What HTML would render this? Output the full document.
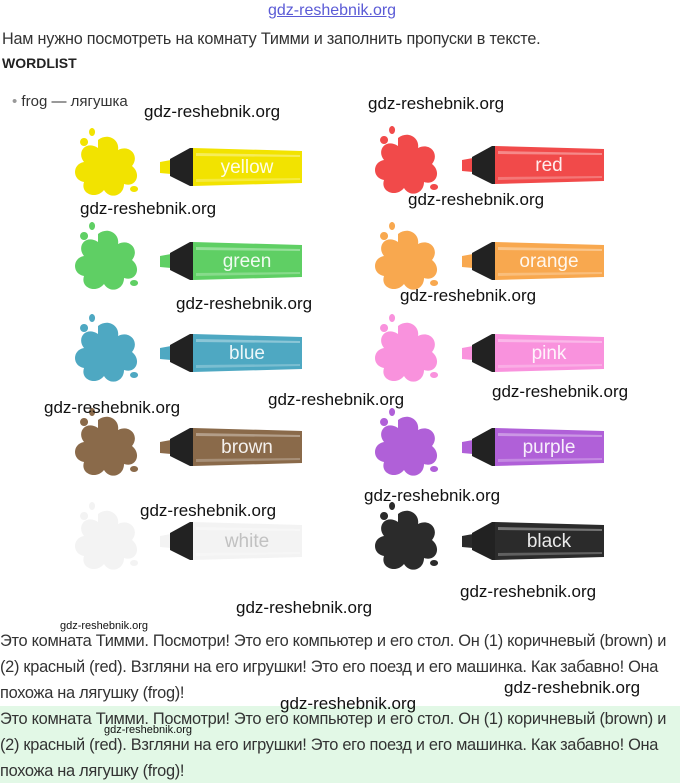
<!DOCTYPE html>
<html><head><meta charset="utf-8"><style>
body{margin:0;width:680px;height:783px;background:#fff;position:relative;overflow:hidden;font-family:"Liberation Sans","DejaVu Sans",sans-serif;}
.t{position:absolute;white-space:nowrap}
.wm{position:absolute;font-family:"Liberation Sans",sans-serif;font-size:17px;color:#111;white-space:nowrap}
.p{position:absolute;left:0;width:690px;font-size:16.4px;line-height:26px;color:#333;letter-spacing:-0.3px;white-space:nowrap}
</style></head><body>
<div class="t" style="left:268px;top:2px;font-size:16px;color:#5b5bd6;text-decoration:underline">gdz-reshebnik.org</div>
<div class="t" style="left:2px;top:30px;font-size:16.2px;color:#333;letter-spacing:-0.2px">Нам нужно посмотреть на комнату Тимми и заполнить пропуски в тексте.</div>
<div class="t" style="left:2px;top:55px;font-size:14px;font-weight:bold;color:#222">WORDLIST</div>
<div class="t" style="left:12px;top:93px;font-size:15px;color:#333"><span style="color:#999">•</span> frog — лягушка</div>

<svg width="680" height="600" style="position:absolute;left:0;top:0">
<defs>
<symbol id="sp" overflow="visible"><path d="M-8,-26 C2,-34 14,-26 12,-16 C24,-22 34,-10 26,0 C36,8 30,22 18,18 C18,30 4,34 -2,24 C-10,34 -26,28 -22,16 C-34,14 -34,-2 -22,-4 C-30,-14 -20,-26 -8,-18 Z M-22,-28 a4,4 0 1,0 0.1,0 M-14,-38 a3,4 0 1,0 0.1,0 M28,20 a4,3 0 1,0 0.1,0"/></symbol>
<symbol id="mk" overflow="visible"><polygon points="0,15 11,13 11,27 0,26"/><polygon points="10,12 30,1 33,1 33,39 30,39 10,29" fill="#222"/><polygon points="33,1 142,4 142,36 33,39"/><polygon points="36,6 140,8 140,10 36,9" fill="#fff" opacity=".35"/><polygon points="36,32 140,31 140,33 36,35" fill="#fff" opacity=".25"/></symbol>
</defs>
<g style="color:#f2e300" fill="currentColor"><use href="#sp" x="106" y="166"/><use href="#mk" x="160" y="147"/></g>
<g style="color:#f14a4a" fill="currentColor"><use href="#sp" x="406" y="164"/><use href="#mk" x="462" y="145"/></g>
<g style="color:#5fcf64" fill="currentColor"><use href="#sp" x="106" y="260"/><use href="#mk" x="160" y="241"/></g>
<g style="color:#f8a84f" fill="currentColor"><use href="#sp" x="406" y="260"/><use href="#mk" x="462" y="241"/></g>
<g style="color:#4ea8c2" fill="currentColor"><use href="#sp" x="106" y="352"/><use href="#mk" x="160" y="333"/></g>
<g style="color:#f992dd" fill="currentColor"><use href="#sp" x="406" y="352"/><use href="#mk" x="462" y="333"/></g>
<g style="color:#8a6a4a" fill="currentColor"><use href="#sp" x="106" y="446"/><use href="#mk" x="160" y="427"/></g>
<g style="color:#b060d8" fill="currentColor"><use href="#sp" x="406" y="446"/><use href="#mk" x="462" y="427"/></g>
<g style="color:#f3f3f3" fill="currentColor"><use href="#sp" x="106" y="540"/><use href="#mk" x="160" y="521"/></g>
<g style="color:#2b2b2b" fill="currentColor"><use href="#sp" x="406" y="540"/><use href="#mk" x="462" y="521"/></g>
<g font-family="Liberation Sans,sans-serif" font-size="19" fill="#fff" fill-opacity=".9" text-anchor="middle">
<text x="247" y="173">yellow</text><text x="549" y="171">red</text>
<text x="247" y="267">green</text><text x="549" y="267">orange</text>
<text x="247" y="359">blue</text><text x="549" y="359">pink</text>
<text x="247" y="453">brown</text><text x="549" y="453">purple</text>
<text x="247" y="547" fill="#bbb">white</text><text x="549" y="547">black</text>
</g>
</svg>

<div class="wm" style="left:144px;top:102px">gdz-reshebnik.org</div>
<div class="wm" style="left:368px;top:94px">gdz-reshebnik.org</div>
<div class="wm" style="left:80px;top:199px">gdz-reshebnik.org</div>
<div class="wm" style="left:408px;top:190px">gdz-reshebnik.org</div>
<div class="wm" style="left:176px;top:294px">gdz-reshebnik.org</div>
<div class="wm" style="left:400px;top:286px">gdz-reshebnik.org</div>
<div class="wm" style="left:44px;top:398px">gdz-reshebnik.org</div>
<div class="wm" style="left:268px;top:390px">gdz-reshebnik.org</div>
<div class="wm" style="left:492px;top:382px">gdz-reshebnik.org</div>
<div class="wm" style="left:364px;top:486px">gdz-reshebnik.org</div>
<div class="wm" style="left:140px;top:501px">gdz-reshebnik.org</div>
<div class="wm" style="left:460px;top:582px">gdz-reshebnik.org</div>
<div class="wm" style="left:236px;top:598px">gdz-reshebnik.org</div>

<div style="position:absolute;left:0;top:706px;width:680px;height:77px;background:#e2f8e6"></div>
<div class="p" style="top:628px">Это комната Тимми. Посмотри! Это его компьютер и его стол. Он (1) коричневый (brown) и<br>(2) красный (red). Взгляни на его игрушки! Это его поезд и его машинка. Как забавно! Она<br>похожа на лягушку (frog)!</div>
<div class="p" style="top:706px">Это комната Тимми. Посмотри! Это его компьютер и его стол. Он (1) коричневый (brown) и<br>(2) красный (red). Взгляни на его игрушки! Это его поезд и его машинка. Как забавно! Она<br>похожа на лягушку (frog)!</div>
<div class="t" style="left:60px;top:620px;font-size:11px;color:#111">gdz-reshebnik.org</div>
<div class="t" style="left:104px;top:724px;font-size:11px;color:#111">gdz-reshebnik.org</div>
<div class="wm" style="left:504px;top:678px">gdz-reshebnik.org</div>
<div class="wm" style="left:280px;top:694px">gdz-reshebnik.org</div>
</body></html>
